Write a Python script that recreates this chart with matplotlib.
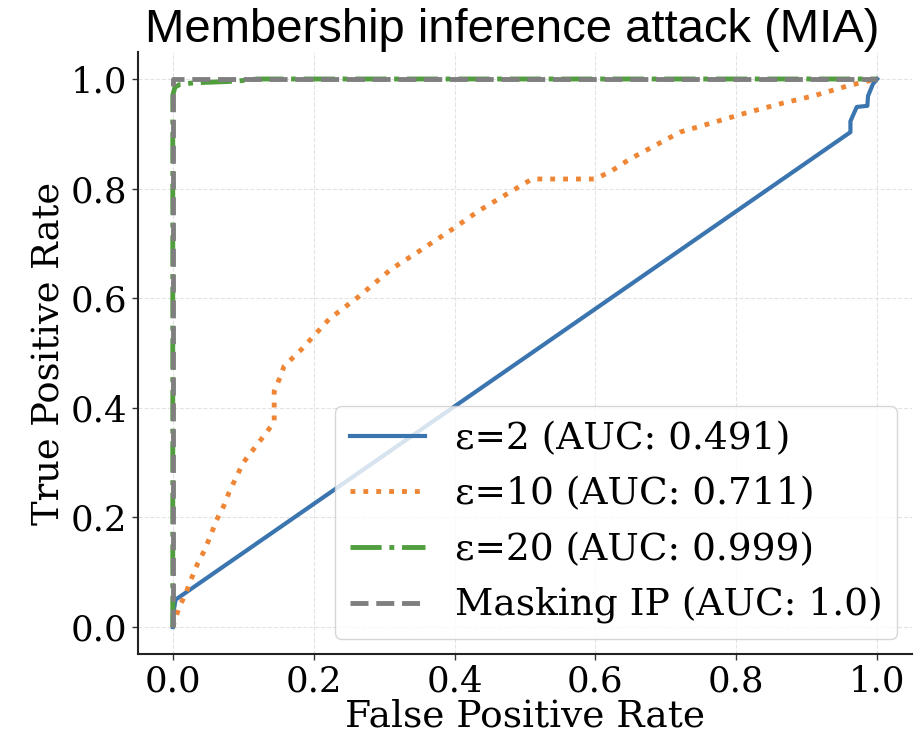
import matplotlib
matplotlib.use("Agg")
import matplotlib.pyplot as plt

# ROC curves
fpr_eps2 = [0.0, 0.0, 0.004, 0.962, 0.962, 0.971, 0.986, 0.987, 0.994, 1.0]
tpr_eps2 = [0.0, 0.02, 0.05, 0.903, 0.923, 0.949, 0.951, 0.969, 0.991, 1.0]

fpr_eps10 = [0.0, 0.009, 0.018, 0.026, 0.035, 0.045, 0.054, 0.062, 0.072, 0.08,
             0.10, 0.13, 0.144, 0.144, 0.144, 0.153, 0.158, 0.183, 0.222, 0.265,
             0.31, 0.35, 0.397, 0.435, 0.482, 0.51, 0.599, 0.62, 0.649, 0.72,
             0.819, 0.866, 0.909, 0.933, 0.957, 0.979, 1.0]
tpr_eps10 = [0.0, 0.036, 0.06, 0.087, 0.115, 0.14, 0.168, 0.195, 0.22, 0.246,
             0.30, 0.35, 0.374, 0.40, 0.43, 0.458, 0.476, 0.507, 0.562, 0.604,
             0.653, 0.686, 0.726, 0.76, 0.796, 0.8175, 0.8175, 0.83, 0.854, 0.903,
             0.94, 0.956, 0.969, 0.978, 0.987, 0.994, 1.0]

fpr_eps20 = [0.0, 0.0, 0.003, 0.01, 0.03, 0.09, 0.12, 1.0]
tpr_eps20 = [0.0, 0.97, 0.985, 0.99, 0.993, 0.996, 1.0, 1.0]

fpr_mask = [0.0, 0.0, 1.0]
tpr_mask = [0.0, 1.0, 1.0]

labels = ["ε=2 (AUC: 0.491)", "ε=10 (AUC: 0.711)",
          "ε=20 (AUC: 0.999)", "Masking IP (AUC: 1.0)"]
colors = ["#3B75AF", "#EF8636", "#519E3E", "#7F7F7F"]

plt.rcParams["font.family"] = "DejaVu Serif"

fig, ax = plt.subplots(figsize=(9.17, 7.37), dpi=100)

ax.plot(fpr_eps2, tpr_eps2, color=colors[0], lw=3, ls="-", label=labels[0])
ax.plot(fpr_eps10, tpr_eps10, color=colors[1], lw=3.5, ls=":", label=labels[1])
ax.plot(fpr_eps20, tpr_eps20, color=colors[2], lw=3.5, ls="-.", label=labels[2])
ax.plot(fpr_mask, tpr_mask, color=colors[3], lw=3.5, ls="--", label=labels[3])

ax.set_title("Membership inference attack (MIA)", fontsize=34,
             family="Liberation Sans", pad=6, x=0.483)
ax.set_xlabel("False Positive Rate", fontsize=27, labelpad=0)
ax.set_ylabel("True Positive Rate", fontsize=26.5, labelpad=2)
ax.tick_params(labelsize=25.5, length=4, width=1, color="#333333")
ax.set_xticks([0.0, 0.2, 0.4, 0.6, 0.8, 1.0])
ax.set_yticks([0.0, 0.2, 0.4, 0.6, 0.8, 1.0])

ax.spines["top"].set_visible(False)
ax.spines["right"].set_visible(False)
for s in ["left", "bottom"]:
    ax.spines[s].set_linewidth(1.5)
    ax.spines[s].set_color("#222222")

ax.grid(True, ls="--", color="#d8d8d8", alpha=0.7, lw=0.8)
ax.legend(loc="lower right", fontsize=27, labelspacing=0.52,
          handlelength=2, borderaxespad=0.4)

plt.subplots_adjust(left=0.15, right=0.995, bottom=0.112, top=0.93)
plt.savefig("out.png", dpi=100)
